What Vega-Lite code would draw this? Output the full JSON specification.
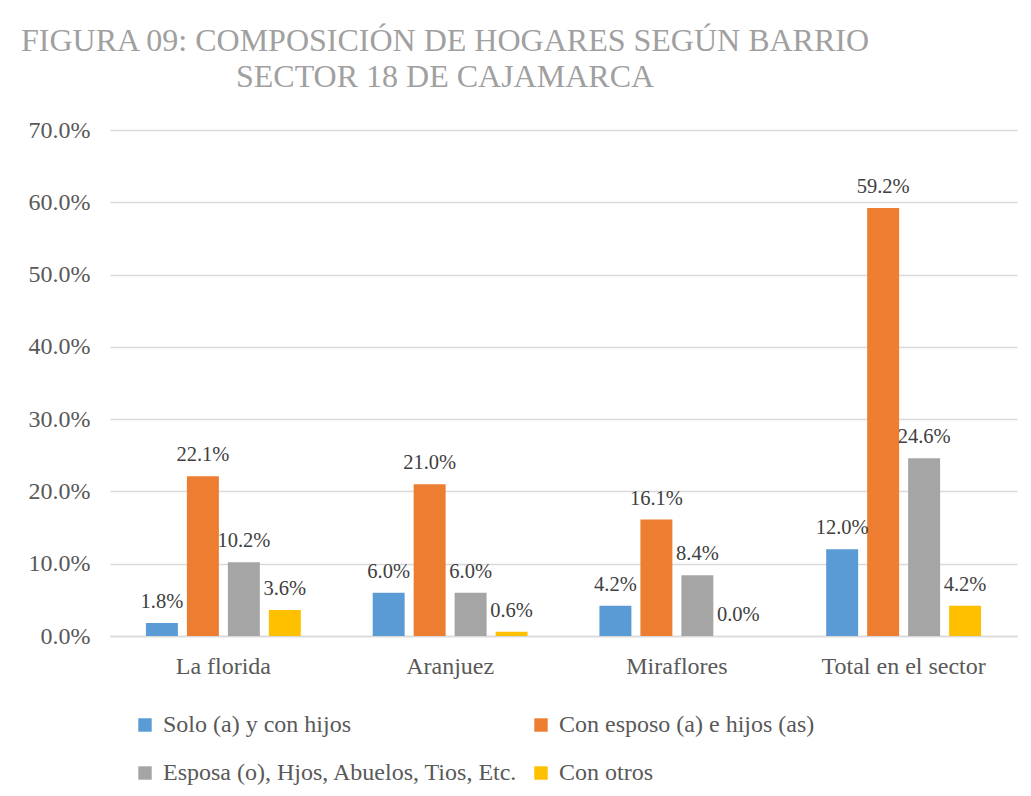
{
  "$schema": "https://vega.github.io/schema/vega-lite/v6.json",
  "autosize": {"type": "none"},
  "width": 907,
  "height": 506,
  "padding": {"left": 110, "top": 130, "right": 14, "bottom": 160},
  "background": "white",
  "title": {
    "text": ["FIGURA 09: COMPOSICIÓN DE HOGARES SEGÚN BARRIO", "SECTOR 18 DE CAJAMARCA"],
    "anchor": "start",
    "frame": "group",
    "align": "center",
    "dx": 335,
    "offset": 24,
    "font": "Liberation Serif",
    "fontSize": 32,
    "fontWeight": "normal",
    "color": "#a0a0a0",
    "lineHeight": 36
  },
  "data": {
    "values": [
      {"barrio": "La florida", "serie": "Solo (a) y con hijos", "valor": 0.018},
      {"barrio": "La florida", "serie": "Con esposo (a) e hijos (as)", "valor": 0.221},
      {"barrio": "La florida", "serie": "Esposa (o), Hjos, Abuelos, Tios, Etc.", "valor": 0.102},
      {"barrio": "La florida", "serie": "Con otros", "valor": 0.036},
      {"barrio": "Aranjuez", "serie": "Solo (a) y con hijos", "valor": 0.060},
      {"barrio": "Aranjuez", "serie": "Con esposo (a) e hijos (as)", "valor": 0.210},
      {"barrio": "Aranjuez", "serie": "Esposa (o), Hjos, Abuelos, Tios, Etc.", "valor": 0.060},
      {"barrio": "Aranjuez", "serie": "Con otros", "valor": 0.006},
      {"barrio": "Miraflores", "serie": "Solo (a) y con hijos", "valor": 0.042},
      {"barrio": "Miraflores", "serie": "Con esposo (a) e hijos (as)", "valor": 0.161},
      {"barrio": "Miraflores", "serie": "Esposa (o), Hjos, Abuelos, Tios, Etc.", "valor": 0.084},
      {"barrio": "Miraflores", "serie": "Con otros", "valor": 0.0},
      {"barrio": "Total en el sector", "serie": "Solo (a) y con hijos", "valor": 0.120},
      {"barrio": "Total en el sector", "serie": "Con esposo (a) e hijos (as)", "valor": 0.592},
      {"barrio": "Total en el sector", "serie": "Esposa (o), Hjos, Abuelos, Tios, Etc.", "valor": 0.246},
      {"barrio": "Total en el sector", "serie": "Con otros", "valor": 0.042}
    ]
  },
  "encoding": {
    "x": {
      "field": "barrio",
      "type": "nominal",
      "sort": ["La florida", "Aranjuez", "Miraflores", "Total en el sector"],
      "scale": {"paddingInner": 0.317, "paddingOuter": 0.1585},
      "axis": {
        "title": null,
        "labelAngle": 0,
        "labelFont": "Liberation Serif",
        "labelFontSize": 24,
        "labelColor": "#595959",
        "labelPadding": 18,
        "ticks": false,
        "domainColor": "#d9d9d9",
        "domainWidth": 1.5,
        "grid": false
      }
    },
    "xOffset": {
      "field": "serie",
      "type": "nominal",
      "sort": ["Solo (a) y con hijos", "Con esposo (a) e hijos (as)", "Esposa (o), Hjos, Abuelos, Tios, Etc.", "Con otros"],
      "scale": {"paddingInner": 0.22, "paddingOuter": 0}
    },
    "y": {
      "field": "valor",
      "type": "quantitative",
      "scale": {"domain": [0, 0.7], "nice": false},
      "axis": {
        "title": null,
        "format": ".1%",
        "values": [0, 0.1, 0.2, 0.3, 0.4, 0.5, 0.6, 0.7],
        "labelFont": "Liberation Serif",
        "labelFontSize": 24,
        "labelColor": "#595959",
        "labelPadding": 20,
        "ticks": false,
        "domain": false,
        "grid": true,
        "gridColor": "#d9d9d9",
        "gridWidth": 1.5
      }
    }
  },
  "layer": [
    {
      "mark": {"type": "bar"},
      "encoding": {
        "color": {
          "field": "serie",
          "type": "nominal",
          "scale": {
            "domain": ["Solo (a) y con hijos", "Con esposo (a) e hijos (as)", "Esposa (o), Hjos, Abuelos, Tios, Etc.", "Con otros"],
            "range": ["#5b9bd5", "#ed7d31", "#a5a5a5", "#ffc000"]
          },
          "legend": {
            "title": null,
            "orient": "none",
            "direction": "horizontal",
            "legendX": 23,
            "legendY": 583,
            "columns": 2,
            "symbolType": "square",
            "symbolSize": 180,
            "symbolStrokeWidth": 0,
            "labelFont": "Liberation Serif",
            "labelFontSize": 24,
            "labelColor": "#595959",
            "labelLimit": 500,
            "labelOffset": 6,
            "columnPadding": 10,
            "rowPadding": 24
          }
        }
      }
    },
    {
      "mark": {"type": "text", "baseline": "alphabetic", "dy": -15, "font": "Liberation Serif", "fontSize": 20.5, "color": "#404040"},
      "encoding": {
        "text": {"field": "valor", "type": "quantitative", "format": ".1%"}
      }
    }
  ],
  "config": {
    "view": {"stroke": null}
  }
}
